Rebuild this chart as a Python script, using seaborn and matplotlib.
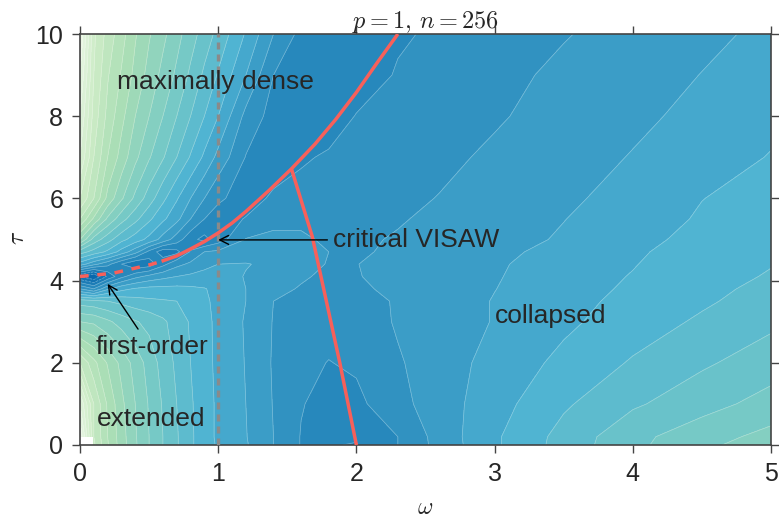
import numpy as np
import matplotlib
matplotlib.use("Agg")
import matplotlib.pyplot as plt
from matplotlib.colors import Normalize
import seaborn as sns

omega = [0, .1, .2, .3, .4, .5, .6, .7, .8, .9, 1, 1.2, 1.4, 1.6, 1.8, 2, 2.3, 2.6, 3, 3.5, 4, 4.5, 5]
tau = [0, .2, 1, 2, 3, 3.5, 3.8, 4.1, 4.4, 4.7, 5, 5.5, 6, 7, 8, 9, 10]

t00 = [np.nan, 14.2, 12.1, 10.5, 9.15, 8, 7, 6.1, 5.2, 4.35, 3.9, 3.1, 2, .95, .05, -.05, 1.0, 2.35, 3.85, 5.4, 6.75, 7.75, 8.6]
t02 = [20, 14, 12, 10.45, 9.1, 8, 7, 6.1, 5.2, 4.35, 3.85, 3.05, 2, .95, .3, .1, 1, 2.4, 3.85, 5.35, 6.7, 7.6, 8.3]
t10 = [18, 14, 11.85, 10.25, 9, 7.9, 6.9, 6, 5.15, 4.35, 3.85, 3, 1.95, 1.05, .7, .75, 1.7, 2.5, 3.6, 4.85, 5.85, 6.6, 7.4]
t20 = [14, 12.3, 10.9, 9.7, 8.6, 7.6, 6.6, 5.8, 5, 4.3, 3.8, 2.95, 1.9, 1.25, .97, 1.15, 1.9, 2.5, 3.35, 4.25, 5.1, 5.85, 6.5]
t30 = [9, 8.8, 8.2, 7.6, 7.1, 6.7, 6.2, 5.5, 4.9, 4.25, 3.8, 2.9, 1.95, 1.55, 1.35, 1.45, 2.1, 2.5, 3.05, 3.8, 4.5, 5.15, 5.8]
t35 = [6.5, 6.3, 6, 5.7, 5.4, 5.2, 5.1, 5, 4.6, 4.1, 3.85, 3, 2, 1.65, 1.5, 1.6, 2.1, 2.5, 3.05, 3.65, 4.3, 4.85, 5.45]
t38 = [2, 1, 2.8, 3.7, 4.1, 4.3, 4.3, 4.3, 4.2, 4.05, 3.75, 3, 2.35, 1.9, 1.65, 1.85, 2.2, 2.55, 2.98, 3.6, 4.15, 4.75, 5.25]
t41 = [-2, -3, -.8, .7, 1.7, 2.3, 2.7, 3, 3.2, 3.35, 3.4, 2.95, 2.5, 2.15, 1.75, 1.95, 2.3, 2.6, 2.92, 3.55, 4.05, 4.55, 5.1]
t44 = [3.5, 2.3, 1.3, 0, -.9, -.6, .7, 1.7, 2.2, 2.7, 3, 3.05, 2.8, 2.3, 1.95, 1.98, 2.3, 2.6, 2.86, 3.5, 3.95, 4.55, 4.95]
t47 = [6.5, 5.6, 4.8, 3.6, 2.4, .7, -.6, -.3, 1.1, 2, 2.2, 2.5, 2.6, 2.4, 2.0, 1.85, 2.2, 2.55, 2.77, 3.3, 3.85, 4.45, 4.85]
t50 = [10, 7.6, 6.4, 5.3, 4.5, 3.7, 2.6, 1.5, .3, -.3, .5, 2.05, 2.2, 2.15, 1.85, 1.85, 2.08, 2.4, 2.65, 3.1, 3.7, 4.3, 4.75]
t55 = [13, 10.8, 8.8, 7.4, 6.3, 5.2, 4.2, 3.3, 2, 1, .6, 1.05, 1.75, 1.8, 1.75, 1.75, 1.92, 2.2, 2.55, 2.98, 3.45, 4.12, 4.55]
t60 = [15, 13, 10.7, 9.15, 7.75, 6.5, 5.25, 4.1, 3, 2, 1.15, .6, 1.15, 1.4, 1.55, 1.65, 1.8, 2.03, 2.4, 2.85, 3.3, 3.98, 4.4]
t70 = [17, 14, 12, 10.6, 9.25, 8.1, 7.1, 6, 4.9, 3.8, 2.7, .95, .5, .85, 1.15, 1.3, 1.55, 1.8, 2.15, 2.6, 3.05, 3.55, 4.05]
t80 = [18, 14.6, 12.7, 11.3, 10, 9, 8, 7, 6, 5, 4, 1.7, .6, .3, .4, 1.05, 1.33, 1.55, 1.9, 2.35, 2.8, 3.25, 3.75]
t90 = [19, 15, 13.1, 11.9, 10.7, 9.65, 8.7, 7.8, 6.8, 5.8, 4.9, 3, 1, .6, .3, .4, 1.1, 1.38, 1.72, 2.2, 2.6, 3.02, 3.45]
t100 = [20, 15.2, 13.6, 12.4, 11.1, 10.1, 9.25, 8.35, 7.45, 6.55, 5.7, 3.9, 2, .7, .4, .4, .85, 1.19, 1.52, 1.94, 2.37, 2.79, 3.2]

crit_w = [.59, .7, .8, .9, 1, 1.1, 1.2, 1.37, 1.53, 1.7, 1.85, 2, 2.15, 2.3]
crit_t = [4.47, 4.6, 4.77, 4.95, 5.16, 5.4, 5.68, 6.2, 6.72, 7.32, 7.92, 8.58, 9.3, 10]
first_w = [0, .24, .51, .59]
first_t = [4.1, 4.18, 4.39, 4.47]
bound_w = [1.53, 1.68, 1.88, 2.0]
bound_t = [6.72, 5.08, 2, 0]
contour_levels = list(range(-5, 22))
x_ticks = [0, 1, 2, 3, 4, 5]
y_ticks = [0, 2, 4, 6, 8, 10]

sns.set_theme(style="ticks")
plt.rcParams["font.family"] = ["Liberation Sans", "DejaVu Sans"]
plt.rcParams["mathtext.fontset"] = "cm"

fig = plt.figure(figsize=(7.79, 5.15), dpi=100)
ax = fig.add_axes([80 / 779, 1 - 445 / 515, 691 / 779, 411 / 515])

Z = np.array([t00, t02, t10, t20, t30, t35, t38, t41, t44, t47, t50, t55, t60, t70, t80, t90, t100])
Zm = np.ma.masked_invalid(Z)
cmap = sns.color_palette("GnBu_r", as_cmap=True)
norm = Normalize(vmin=-6, vmax=21.7)
ax.contourf(omega, tau, Zm, levels=contour_levels, cmap=cmap, norm=norm, corner_mask=False)
ax.contour(omega, tau, Zm, levels=contour_levels, colors="white", linewidths=.5, alpha=.35, corner_mask=False)

RED = "#f8605a"
ax.plot([1, 1], [0, 10], color="#8a8a8a", lw=2.4, dashes=(2.1, 1.5), zorder=3)
ax.plot(crit_w, crit_t, color=RED, lw=2.5, solid_capstyle="butt", zorder=4)
ax.plot(first_w, first_t, color=RED, lw=2.5, dashes=(2.5, 2.5), zorder=4)
ax.plot(bound_w, bound_t, color=RED, lw=2.5, solid_capstyle="butt", zorder=4)

ax.set_xlim(0, 5)
ax.set_ylim(0, 10)
ax.set_xticks(x_ticks)
ax.set_yticks(y_ticks)
ax.tick_params(direction="out", length=6, width=1, color="#444444", labelsize=18,
               labelcolor="#262626", top=True, right=True, pad=6)
for s in ax.spines.values():
    s.set_color("#444444")
    s.set_linewidth(1.2)

TXT = "#262626"
fs = 19
ax.text(.27, 8.83, "maximally dense", fontsize=fs, color=TXT, va="center")
ax.text(.11, 2.38, "first-order", fontsize=fs, color=TXT, va="center")
ax.text(.12, .63, "extended", fontsize=fs, color=TXT, va="center")
ax.text(3.0, 3.15, "collapsed", fontsize=fs, color=TXT, va="center")
ax.text(1.83, 4.98, "critical VISAW", fontsize=fs, color=TXT, va="center")
ax.annotate("", xy=(1.0, 4.99), xytext=(1.79, 4.99),
            arrowprops=dict(arrowstyle="->", color="black", lw=1, mutation_scale=16, shrinkA=0, shrinkB=0), zorder=5)
ax.annotate("", xy=(.2, 3.92), xytext=(.42, 2.82),
            arrowprops=dict(arrowstyle="->", color="black", lw=1, mutation_scale=16, shrinkA=0, shrinkB=0), zorder=5)

ax.set_title(r"$p=1,\,n=256$", fontsize=17.5, color=TXT, x=.499, y=1.03, va="center", pad=0)
ax.set_xlabel(r"$\omega$", fontsize=17, color=TXT, va="center")
ax.xaxis.set_label_coords(.499, -.153)
ax.set_ylabel(r"$\tau$", fontsize=17, color=TXT, va="center")
ax.yaxis.set_label_coords(-.09, .505)

fig.savefig("out.png", dpi=100)
